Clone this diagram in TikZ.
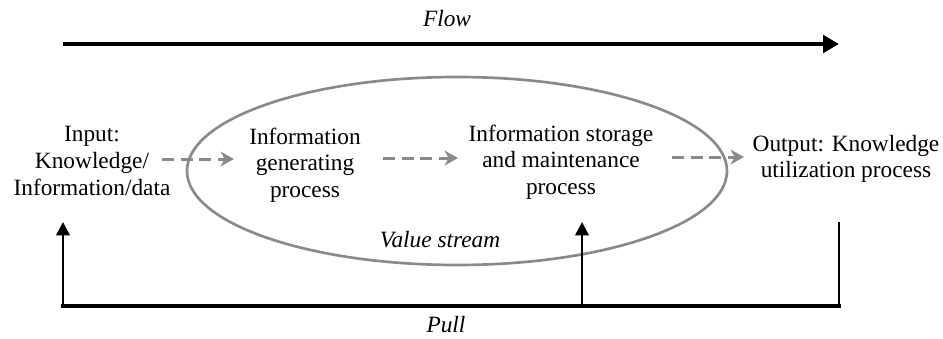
\documentclass[tikz,border=0pt]{standalone}
\usepackage{fontspec}
\setmainfont{Liberation Serif}
\usepackage{tikz}
\usetikzlibrary{arrows.meta}

\definecolor{vsgray}{RGB}{138,138,138}

\begin{document}
\begin{tikzpicture}[x=0.75pt,y=0.75pt,yscale=-1,xscale=1,
	every node/.style={font=\fontsize{17.5}{20}\selectfont,align=center,inner sep=0pt},
	flowdash/.style={vsgray,line width=2.25pt,dash pattern=on 9pt off 5pt,-{Stealth[length=10pt,width=11pt,inset=3pt]}},
	pullline/.style={black,line width=2pt}]
			\useasboundingbox (0,0) rectangle (943,339);
			
			\draw[vsgray,line width=2pt] (457,171) ellipse [x radius=270, y radius=94];
			
			\draw (447,19) node (flow) [font=\fontsize{17.5}{20}\selectfont\itshape] {Flow};
			\draw (92,161) node (inp) {Input:\\Knowledge/\\Information/data};
			\draw (305,165) node (gen) {Information\\generating\\process};
			\draw (561,162) node (sto) {Information storage\\and maintenance\\process};
			\draw (846,159) node (out) {Output: Knowledge\\utilization process};
			\draw (440,240) node (val) [font=\fontsize{17.5}{20}\selectfont\itshape] {Value stream};
			\draw (446,325) node (pull) [font=\fontsize{17.5}{20}\selectfont\itshape] {Pull};
			
			\coordinate (f0) at (63,44);
			\coordinate (f1) at (839,44);
			\coordinate (d1a) at (162,159);
			\coordinate (d1b) at (234,159);
			\coordinate (d2a) at (383,158);
			\coordinate (d2b) at (458,158);
			\coordinate (d3a) at (672,157);
			\coordinate (d3b) at (744,157);
			\coordinate (p0) at (63,306);
			\coordinate (p0t) at (63,222);
			\coordinate (p1) at (582,306);
			\coordinate (p1t) at (582,222);
			\coordinate (p2) at (839,306);
			\coordinate (p2t) at (839,222);
			
			\draw[line width=3pt,-{Triangle[length=12pt,width=13pt]}] (f0) -- (f1);
			
			\draw[flowdash] (d1a) -- (d1b);
			\draw[flowdash] (d2a) -- (d2b);
			\draw[flowdash] (d3a) -- (d3b);
			
			\draw[pullline,-{Triangle[length=10pt,width=10pt]}] (p0) -- (p0t);
			\draw[pullline,-{Triangle[length=10pt,width=10pt]}] (p1) -- (p1t);
			\draw[pullline] (p2t) -- (p2);
			\draw[black,line width=3pt,line cap=rect] (p0) -- (p2);
			\end{tikzpicture}
\end{document}
